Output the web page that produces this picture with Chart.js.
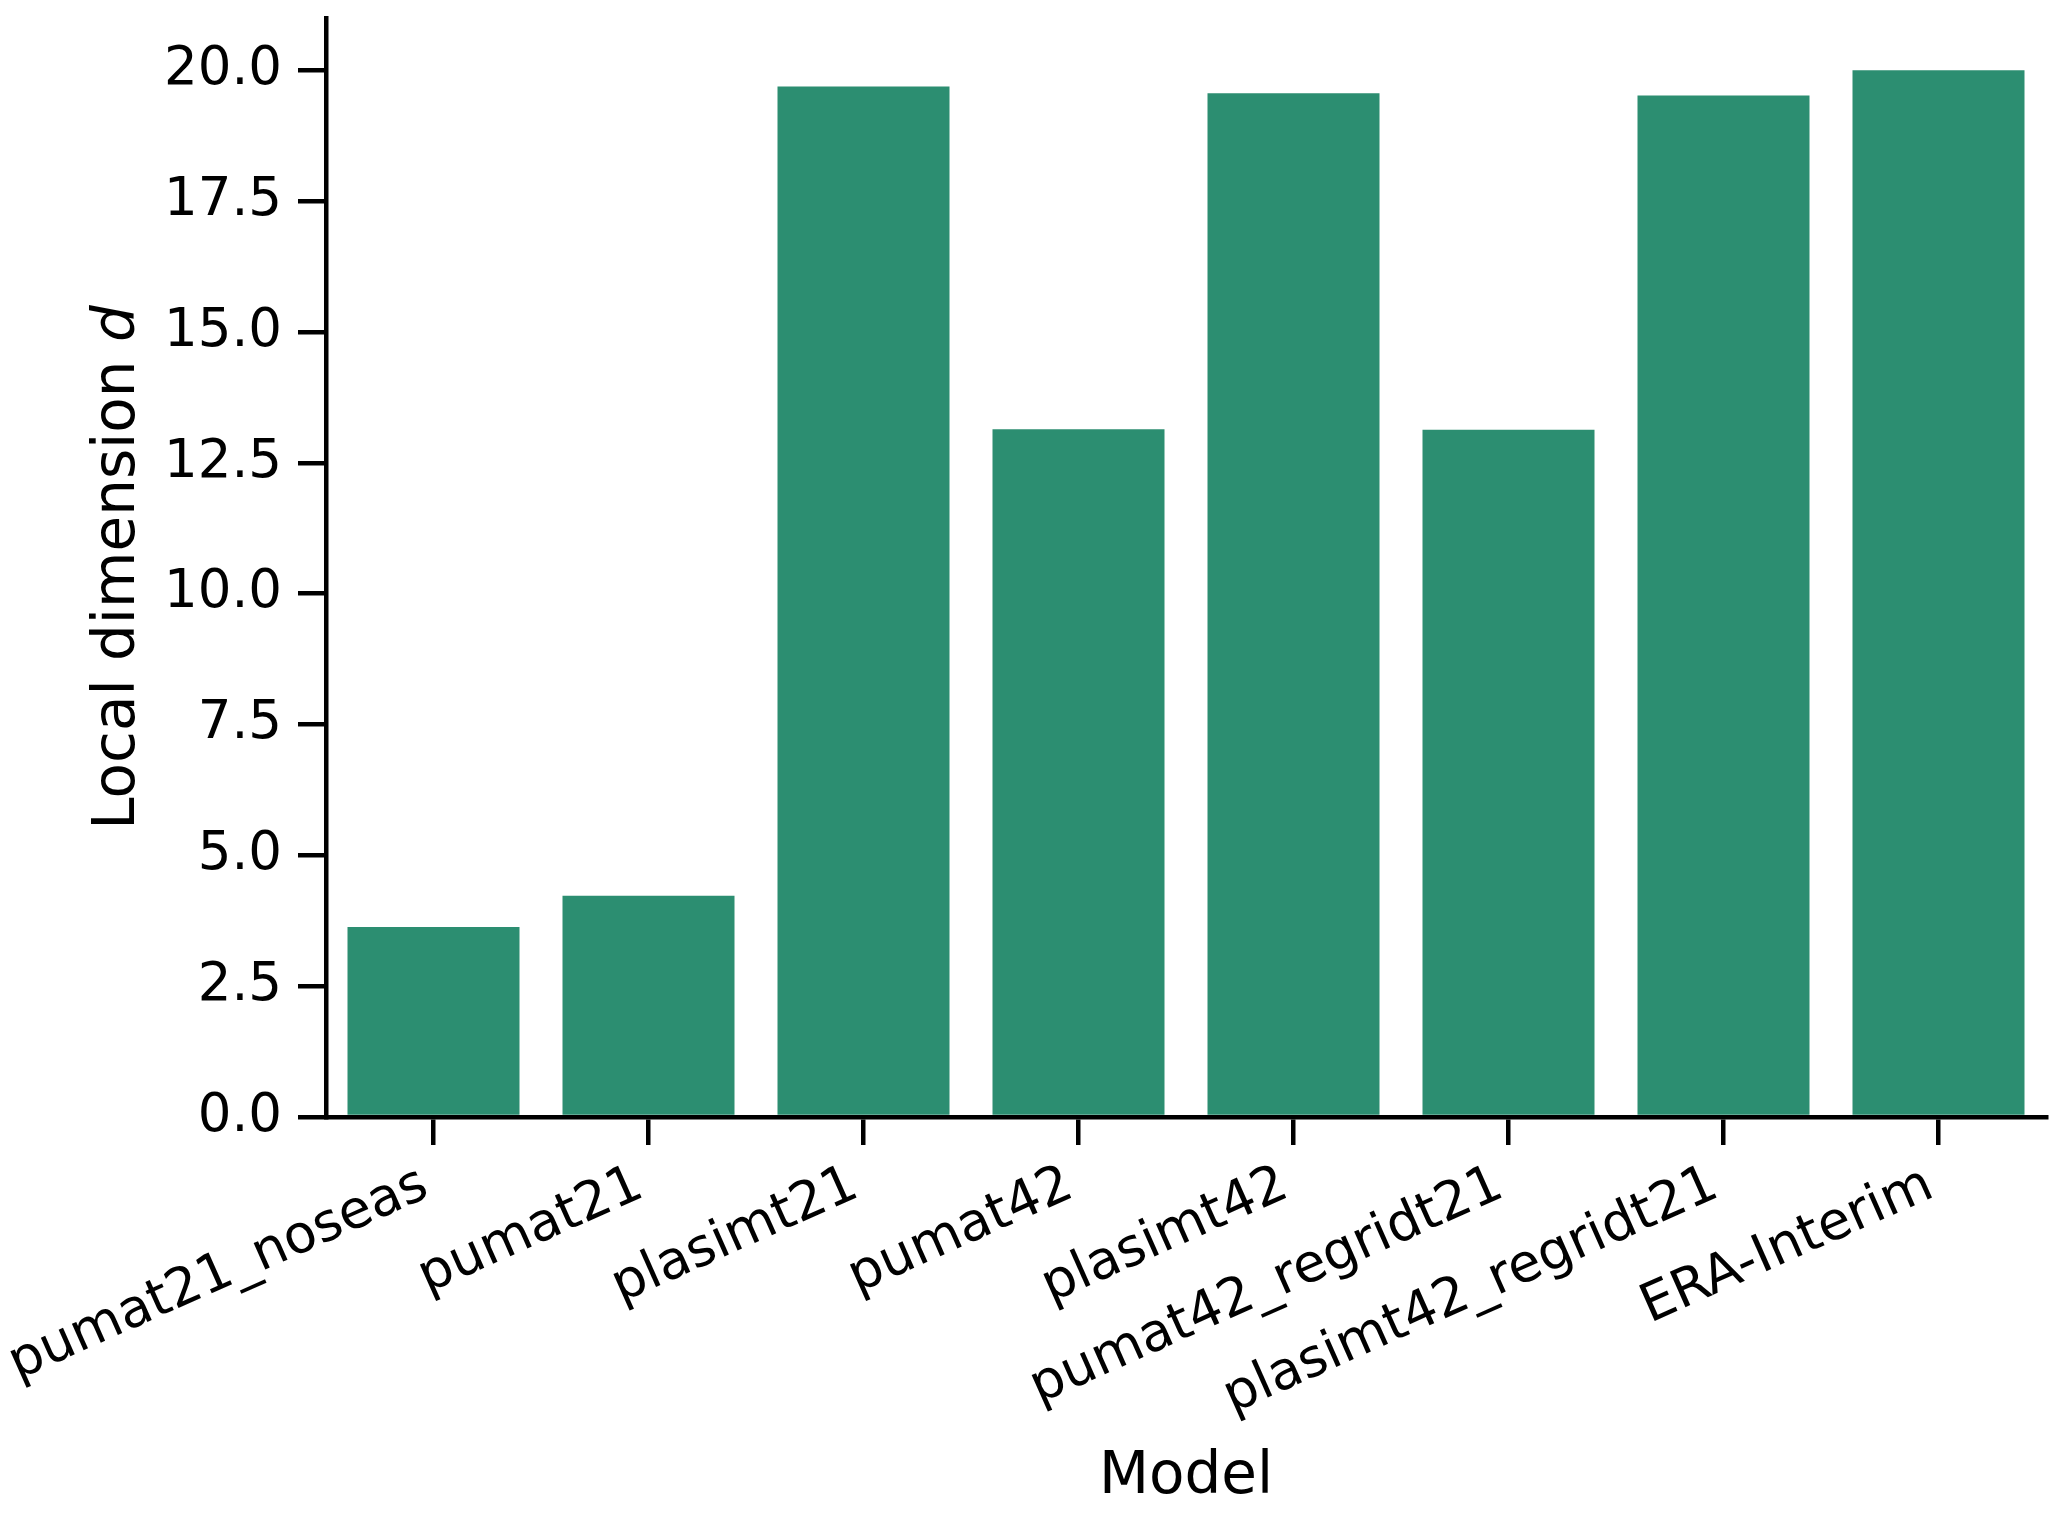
<!DOCTYPE html>
<html>
<head>
<meta charset="utf-8">
<script src="https://cdn.jsdelivr.net/npm/chart.js@4.4.1/dist/chart.umd.min.js"></script>
<style>
    html, body { margin: 0; padding: 0; background: #ffffff; }
    #wrap { width: 2067px; height: 1513px; }
</style>
</head>
<body>
<div id="wrap"><canvas id="bar-chart" width="2067" height="1513"></canvas></div>
<script>
const models = ['pumat21_noseas', 'pumat21', 'plasimt21', 'pumat42', 'plasimt42',
    'pumat42_regridt21', 'plasimt42_regridt21', 'ERA-Interim'];
const localDim = [3.63, 4.23, 19.69, 13.14, 19.56, 13.13, 19.52, 20.0];
const yMin = 0;
const yMax = 21;
const yStep = 2.5;

const BAR_COLOR = '#2c8e71';
const FONT = 'DejaVu Sans';
const TICK_SIZE = 53;
const LABEL_SIZE = 58;

// y title needs an italic "d", so it is drawn by hand
const yTitlePlugin = {
    id: 'yTitle',
    afterDraw(chart) {
        const ctx = chart.ctx;
        const area = chart.chartArea;
        const normal = 'Local dimension ';
        ctx.save();
        ctx.fillStyle = '#000';
        ctx.textBaseline = 'middle';
        ctx.font = `${LABEL_SIZE}px "${FONT}"`;
        const w1 = ctx.measureText(normal).width;
        ctx.font = `italic ${LABEL_SIZE}px "${FONT}"`;
        const w2 = ctx.measureText('d').width;
        ctx.translate(119, (area.top + area.bottom) / 2);
        ctx.rotate(-Math.PI / 2);
        ctx.textAlign = 'left';
        ctx.font = `${LABEL_SIZE}px "${FONT}"`;
        ctx.fillText(normal, -(w1 + w2) / 2, 0);
        ctx.font = `italic ${LABEL_SIZE}px "${FONT}"`;
        ctx.fillText('d', -(w1 + w2) / 2 + w1, 0);
        ctx.restore();
    }
};

const axisGrid = {
    display: true,
    drawOnChartArea: false,
    drawTicks: true,
    tickLength: 28,
    lineWidth: 4.5,
    color: '#000000',
    offset: false
};

new Chart(document.getElementById('bar-chart').getContext('2d'), {
    type: 'bar',
    data: {
        labels: models,
        datasets: [{
            label: 'Local dimension d',
            data: localDim,
            backgroundColor: BAR_COLOR,
            borderWidth: 0,
            categoryPercentage: 0.8,
            barPercentage: 1.0
        }]
    },
    options: {
        responsive: false,
        devicePixelRatio: 1,
        animation: false,
        layout: { padding: { left: 0, top: 18, right: 21, bottom: 0 } },
        plugins: {
            legend: { display: false },
            tooltip: { enabled: false }
        },
        scales: {
            x: {
                offset: true,
                grid: axisGrid,
                border: { display: true, color: '#000000', width: 4.5, z: 1 },
                ticks: {
                    color: '#000000',
                    font: { family: FONT, size: TICK_SIZE },
                    minRotation: 24,
                    maxRotation: 24,
                    autoSkip: false,
                    padding: 9,
                    labelOffset: -8
                },
                title: {
                    display: true,
                    text: 'Model',
                    color: '#000000',
                    font: { family: FONT, size: LABEL_SIZE },
                    padding: { top: 0, bottom: 0 }
                },
                afterFit: scale => {
                    scale.height = 396;
                    scale.paddingLeft = 0;
                    scale.paddingRight = 0;
                }
            },
            y: {
                min: yMin,
                max: yMax,
                grid: axisGrid,
                border: { display: true, color: '#000000', width: 4.5, z: 1 },
                ticks: {
                    stepSize: yStep,
                    includeBounds: false,
                    color: '#000000',
                    font: { family: FONT, size: TICK_SIZE },
                    padding: 16,
                    callback: v => Number(v).toFixed(1)
                },
                afterFit: scale => {
                    scale.width = 326;
                    scale.paddingTop = 0;
                    scale.paddingBottom = 0;
                }
            }
        }
    },
    plugins: [yTitlePlugin]
});
</script>
</body>
</html>
